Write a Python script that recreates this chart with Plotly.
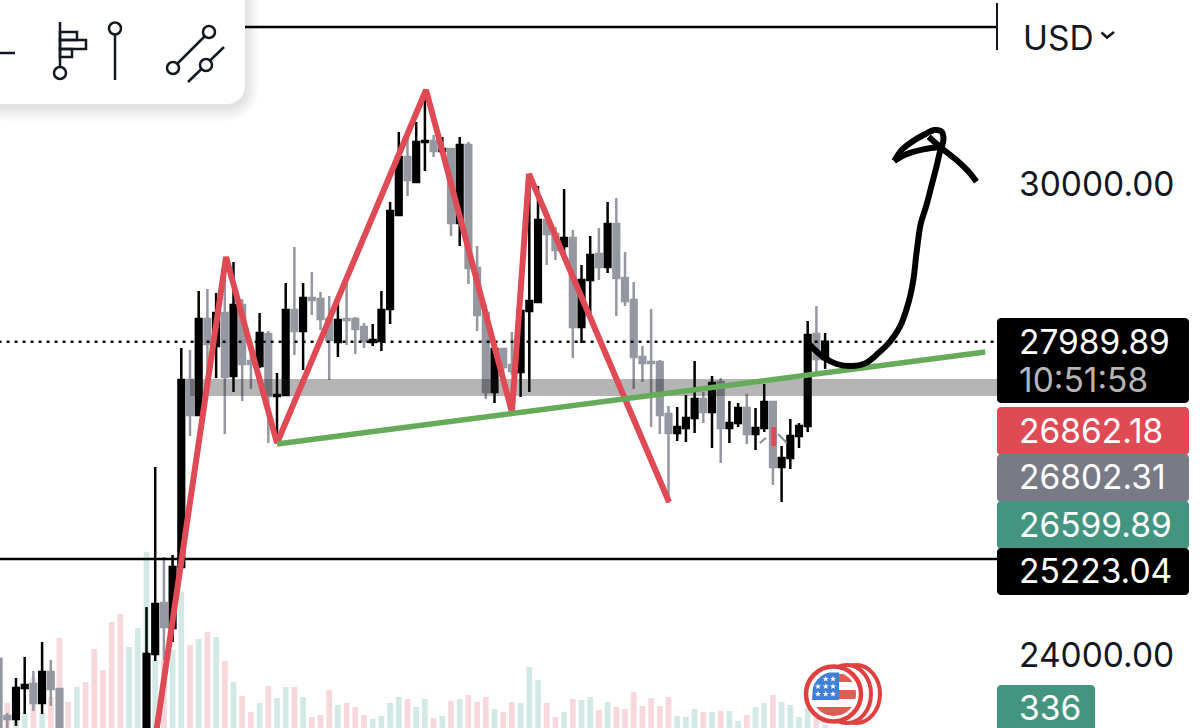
import numpy as np
import plotly.graph_objects as go

W, H = 1200, 728

# candle index (7-15 sit below the visible price range)
candle_index = list(range(-1, 7)) + list(range(16, 95))

candle_open = [23948, 23222, 23184, 23579, 23630, 23388, 23783, 23566,
               22916, 24012, 24662, 24343, 25120, 27503, 27057, 28280, 27936, 28356, 27554, 28458,
               27745, 27681, 28089, 27299, 27312, 28395, 28127, 28548, 28535, 28280, 27987, 28280,
               28280, 28178, 27987, 28000, 28407, 29605, 30344, 30025, 30535, 30548, 30420, 30446,
               29503, 30497, 28930, 28356, 27350, 27898, 27694, 27605, 28382, 28496, 29541, 29363,
               29210, 29312, 28178, 28777, 29108, 28942, 29490, 28802, 28522, 27796, 27732, 27732,
               27070, 26827, 26891, 27019, 27261, 27095, 27477, 26891, 26955, 27146, 26815, 26891,
               27223, 26394, 26509, 26789, 26917, 28089, 27770]
candle_high = [24127, 23260, 23706, 23974, 23795, 24165, 23936, 23566,
               24611, 26394, 25248, 25273, 27910, 27885, 28637, 28662, 28611, 28904, 29006, 28535,
               28012, 28356, 28127, 27592, 28739, 29197, 28739, 28879, 28624, 28573, 28522, 28739,
               28305, 28229, 28216, 28637, 29770, 30662, 30599, 30790, 31108, 30624, 30599, 30459,
               30599, 30535, 29210, 28458, 27949, 27898, 28114, 28395, 30051, 29974, 29669, 29452,
               29936, 29414, 28968, 29337, 29439, 29770, 29821, 29134, 28751, 27936, 28407, 27758,
               27172, 27159, 27312, 27745, 27350, 27554, 27528, 27235, 27210, 27325, 27146, 27452,
               27235, 26662, 27006, 26955, 28254, 28446, 28102]
candle_low = [22853, 22980, 23095, 23248, 23286, 23248, 23350, 22916,
              22853, 23923, 23936, 24165, 25108, 26789, 27044, 27439, 27528, 26815, 27350, 27235,
              27388, 27656, 26700, 26713, 27299, 27821, 27630, 28331, 28140, 27503, 27796, 27949,
              27834, 27910, 27936, 27872, 28216, 29592, 29847, 30012, 30165, 30344, 30408, 29337,
              29210, 28726, 28127, 27261, 27210, 27567, 27567, 27286, 27350, 28484, 28968, 29032,
              29121, 27783, 27974, 28331, 28777, 28866, 28318, 28446, 27388, 27477, 26904, 26815,
              25936, 26726, 26713, 26827, 26955, 26636, 26445, 26700, 26904, 26687, 26611, 26840,
              26165, 25949, 26369, 26636, 26840, 27605, 27643]
candle_close = [22916, 23184, 23579, 23617, 23388, 23783, 23566, 22980,
                24012, 24649, 24356, 25120, 27503, 27057, 28280, 27961, 28356, 27541, 28458, 27707,
                27707, 28102, 27299, 27312, 28395, 28127, 28548, 28522, 28280, 28012, 28267, 28267,
                28152, 28000, 28012, 28395, 29656, 30344, 30051, 30535, 30548, 30420, 30446, 29503,
                30497, 28930, 28331, 27350, 27898, 27668, 27618, 28382, 28509, 29541, 29363, 29159,
                29312, 28178, 28777, 29095, 28942, 29490, 28802, 28509, 27796, 27719, 27719, 27057,
                26827, 26904, 27019, 27261, 27095, 27465, 26891, 26955, 27146, 26815, 26891, 27223,
                26394, 26509, 26789, 26917, 28076, 27770, 27989.89]

# volume bars start at candle 0
volume = [2800, 900, 1680, 5600, 1680, 3470, 10080, 2910, 4590, 5150, 8850, 6500, 11870, 12770,
          9070, 11200, 19710, 7620, 7620, 8740, 15230, 9300, 9970, 10750, 10190, 7500, 5150, 3580,
          1790, 2800, 4700, 3360, 4590, 4590, 3470, 1230, 1460, 4260, 2580, 2800, 2350, 1460, 1010,
          1340, 2800, 3470, 3250, 2350,
          3250, 1120, 1340, 3020, 3250, 3700, 2910, 3470, 2130, 1790, 2910, 2800, 6830, 5380, 2800,
          1230, 1790, 3250, 3140, 3470, 2020, 2910, 2350, 2130, 4030, 2460, 3360, 2460, 3470, 1340,
          1230, 2130, 1790, 1790, 1900, 1900, 780, 1460, 2350, 2800, 3700, 2910, 2580, 1230, 2240,
          1230, 336]
volume_side = ["d", "t", "t", "d", "t", "d", "d", "d", "t", "d", "d", "d", "d", "d", "t", "t",
               "t", "t", "d", "t", "t", "d", "t", "d", "t", "d", "t", "d", "d", "t", "d", "t",
               "t", "d", "t", "d", "d", "d", "t", "d", "d", "d", "t", "t", "t", "t", "d", "t",
               "t", "d", "t", "d", "t", "d", "d", "d", "t", "d", "d", "t", "t", "t", "d", "d",
               "t", "d", "t", "t", "d", "t", "d", "d", "d", "d", "d", "d", "d", "t", "t", "t",
               "d", "t", "d", "t", "t", "d", "t", "t", "d", "t", "t", "t", "t", "d", "t"]

# hand drawn overlays, (candle index, price)
red_x = [16.9, 25.14, 31.0, 48.13, 58.0, 59.96, 76.06]
red_y = [22853, 29070, 26700, 31197, 27095, 30127, 25949]
green_x = [31.0, 112.4]
green_y = [26688, 27860]
stem_x = [91.95, 92.84, 93.99, 95.33, 97.06, 98.59, 100.1, 101.46, 102.6, 103.56, 104.14, 104.5,
          105.0, 105.6, 106.25, 106.8, 107.2, 107.6, 107.4, 106.6, 105.3, 104.0, 102.8, 101.95]
stem_y = [27991, 27885, 27779, 27707, 27681, 27715, 27843, 27991, 28182, 28480, 28777, 29117,
          29499, 29711, 29987, 30220, 30411, 30560, 30666, 30688, 30624, 30539, 30433, 30293]
loop_x = [101.95, 103.4, 105.3, 107.4]
loop_y = [30293, 30382, 30442, 30475]
head_x = [105.9, 107.4, 109.1, 110.5, 111.4]
head_y = [30602, 30455, 30306, 30157, 30029]
tick_x = [86.5, 87.2, None, 88.6, 89.6]
tick_y = [26700, 26764, None, 26815, 26700]
mark_x = [88.1, 88.1]
mark_y = [26904, 26662]

band_low, band_high = 27299, 27516
last_price = 27989.89
level_price = 25223.04
top_price = 32000
band_start, line_end = 21, 113.76

price_tag_rows = [("27989.89", 342, "white"), ("10:51:58", 380, "#b5b5b5"), ("26862.18", 431, "white"),
                  ("26802.31", 477, "white"), ("26599.89", 525, "white"), ("25223.04", 571, "white")]
axis_labels = [("USD", 38, 1021), ("30000.00", 184, 1017), ("24000.00", 655, 1017)]

INK = "#131722"
GRAY = "#9598a1"
RED = "#e04a55"


def px(x):
    return x / W


def py(y):
    return 1 - y / H


def to_path(points):
    return "M" + "L".join(f"{px(a):.5f},{py(b):.5f}" for a, b in points) + "Z"


def rounded_box(x0, y0, x1, y1, r):
    pts = []
    corners = [(x1 - r, y0 + r, -90), (x1 - r, y1 - r, 0), (x0 + r, y1 - r, 90), (x0 + r, y0 + r, 180)]
    for cx, cy, start in corners:
        for a in np.radians(np.linspace(start, start + 90, 7)):
            pts.append((cx + r * np.cos(a), cy + r * np.sin(a)))
    return to_path(pts)


def star_path(cx, cy, r):
    angles = np.radians(np.arange(10) * 36 - 90)
    radii = [r if k % 2 == 0 else r * 0.42 for k in range(10)]
    return to_path([(cx + q * np.cos(a), cy + q * np.sin(a)) for q, a in zip(radii, angles)])


def add_fill(fig, path, color):
    fig.add_shape(type="path", path=path, xref="paper", yref="paper", fillcolor=color, line_width=0)


def add_seg(fig, x0, y0, x1, y1, width=2.5, color=INK):
    fig.add_shape(type="line", xref="paper", yref="paper", x0=px(x0), y0=py(y0), x1=px(x1), y1=py(y1),
                  line=dict(color=color, width=width))


def add_ring(fig, cx, cy, r, width=2.5, color=INK):
    fig.add_shape(type="circle", xref="paper", yref="paper", x0=px(cx - r), x1=px(cx + r), y0=py(cy + r),
                  y1=py(cy - r), fillcolor="white", line=dict(color=color, width=width))


def add_text(fig, text, x, y, size=33.5, color=INK, anchor="left"):
    fig.add_annotation(text=text, x=px(x), y=py(y), xref="paper", yref="paper", showarrow=False,
                       xanchor=anchor, yanchor="middle", font=dict(family="Inter", size=size, color=color))


fig = go.Figure()

bar_colors = ["#f7d8dc" if s == "d" else "#d3e9e5" for s in volume_side]
fig.add_trace(go.Bar(x=list(range(len(volume))), y=volume, marker_color=bar_colors, marker_line_width=0,
                     width=0.66, yaxis="y"))

fig.add_trace(go.Candlestick(x=candle_index, open=candle_open, high=candle_high, low=candle_low,
                             close=candle_close, yaxis="y2", whiskerwidth=0,
                             increasing=dict(line=dict(color="black", width=2.5), fillcolor="black"),
                             decreasing=dict(line=dict(color=GRAY, width=2.5), fillcolor=GRAY)))


def price_line(x, y, color, width, dash="solid", shape="linear"):
    fig.add_trace(go.Scatter(x=x, y=y, mode="lines", yaxis="y2",
                             line=dict(color=color, width=width, dash=dash, shape=shape)))


fig.add_trace(go.Scatter(x=[band_start, line_end, line_end, band_start],
                         y=[band_low, band_low, band_high, band_high], yaxis="y2", mode="none",
                         fill="toself", fillcolor="rgba(30,30,30,0.33)"))
price_line([-1, line_end], [last_price, last_price], "black", 2.5, dash="3px,5px")
price_line([-1, line_end], [level_price, level_price], "black", 2.5)
price_line([-1, line_end], [top_price, top_price], "black", 2.5)
price_line(tick_x, tick_y, "#8a8d96", 2)
price_line(mark_x, mark_y, RED, 5)
price_line(red_x, red_y, RED, 6)
price_line(green_x, green_y, "#66ab5a", 5.5)
price_line(stem_x, stem_y, "black", 6, shape="spline")
price_line(loop_x, loop_y, "black", 6, shape="spline")
price_line(head_x, head_y, "black", 6, shape="spline")

# toolbar panel with soft shadow
for grow in range(14, 0, -2):
    add_fill(fig, rounded_box(-30, -30, 245 + grow, 105 + grow + 2, 18 + grow), "rgba(0,0,0,0.014)")
add_fill(fig, rounded_box(-30, -30, 245, 104, 18), "white")

# toolbar icons
add_seg(fig, 0, 53, 15, 53)
add_seg(fig, 60, 22, 60, 67)
for x1, y0, y1 in [(77, 32, 40), (86, 40, 49), (72, 49, 57)]:
    fig.add_shape(type="rect", xref="paper", yref="paper", x0=px(60), x1=px(x1), y0=py(y1), y1=py(y0),
                  line=dict(color=INK, width=2.5))
add_ring(fig, 60, 73, 6)
add_seg(fig, 115, 34, 115, 80)
add_ring(fig, 115, 28.5, 6)
add_seg(fig, 173, 68, 209, 32)
add_ring(fig, 209, 32, 6)
add_ring(fig, 173, 68, 6)
add_seg(fig, 188, 82, 224, 47)
add_ring(fig, 206, 65, 6)

# end of the top line and chevron
add_seg(fig, 997, 3, 997, 50, width=2)
fig.add_shape(type="path", xref="paper", yref="paper",
              path=f"M{px(1101.5)},{py(32.5)}L{px(1107)},{py(37.5)}L{px(1114)},{py(32)}",
              line=dict(color=INK, width=2.5))

# price tags
add_fill(fig, rounded_box(997, 318, 1189, 403, 4), "black")
add_fill(fig, rounded_box(997, 407, 1189, 455, 4), "#e04a55")
add_fill(fig, rounded_box(997, 454, 1189, 502, 4), "#787b86")
add_fill(fig, rounded_box(997, 501, 1189, 549, 4), "#439580")
add_fill(fig, rounded_box(997, 548, 1189, 595, 4), "black")
add_fill(fig, rounded_box(997, 685, 1095, 740, 4), "#439580")
for text, y, color in price_tag_rows:
    add_text(fig, text, 1017, y, color=color)
for text, y, x in axis_labels:
    add_text(fig, text, x, y)
add_text(fig, "336", 1017, 708, color="white")

# event flag badge
fig.add_shape(type="circle", xref="paper", yref="paper", x0=px(832), x1=px(880), y0=py(723), y1=py(665),
              fillcolor="white", line=dict(color="#e0403f", width=4))
fig.add_shape(type="circle", xref="paper", yref="paper", x0=px(823), x1=px(871), y0=py(723), y1=py(665),
              fillcolor="white", line=dict(color="#e0403f", width=4))
add_ring(fig, 833.5, 694, 27.5, width=4.5, color="#e0403f")


def flag_band(y0, y1, left=None):
    cx, cy, r = 834, 694, 22
    ys = np.linspace(y0, y1, 10)
    half = np.sqrt(np.maximum(r * r - (ys - cy) ** 2, 0))
    right = [(cx + h, y) for h, y in zip(half, ys)]
    lefts = [(max(cx - h, left) if left else cx - h, y) for h, y in zip(half, ys)]
    return to_path(right + lefts[::-1])


add_fill(fig, flag_band(674, 682, left=839), "#e25b52")
add_fill(fig, flag_band(690, 699, left=839), "#e25b52")
add_fill(fig, flag_band(707, 716), "#e25b52")
add_fill(fig, to_path([(839, 672.5), (839, 700), (812, 700)] +
                      [(834 + 22 * np.cos(a), 694 + 22 * np.sin(a)) for a in np.radians(np.linspace(196, 257, 8))]),
         "#3f7fd8")
for sx, sy in [(825.7, 679), (833, 679), (818, 686.5), (825.7, 686.5), (833, 686.5),
               (818, 694), (825.7, 694), (833, 694)]:
    add_fill(fig, star_path(sx, sy, 3.2), "white")

fig.update_layout(
    width=W, height=H, margin=dict(l=0, r=0, t=0, b=0), paper_bgcolor="white", plot_bgcolor="white",
    showlegend=False, barmode="overlay", boxgap=0.35, boxgroupgap=0,
    xaxis=dict(range=[-0.839, 137.09], visible=False, rangeslider=dict(visible=False), fixedrange=True),
    yaxis=dict(range=[0, 81536], visible=False, fixedrange=True),
    yaxis2=dict(range=[23070, 32344], visible=False, overlaying="y", fixedrange=True),
)

fig.write_html("out.html", config={"displayModeBar": False}, post_script="document.body.style.margin='0';")
